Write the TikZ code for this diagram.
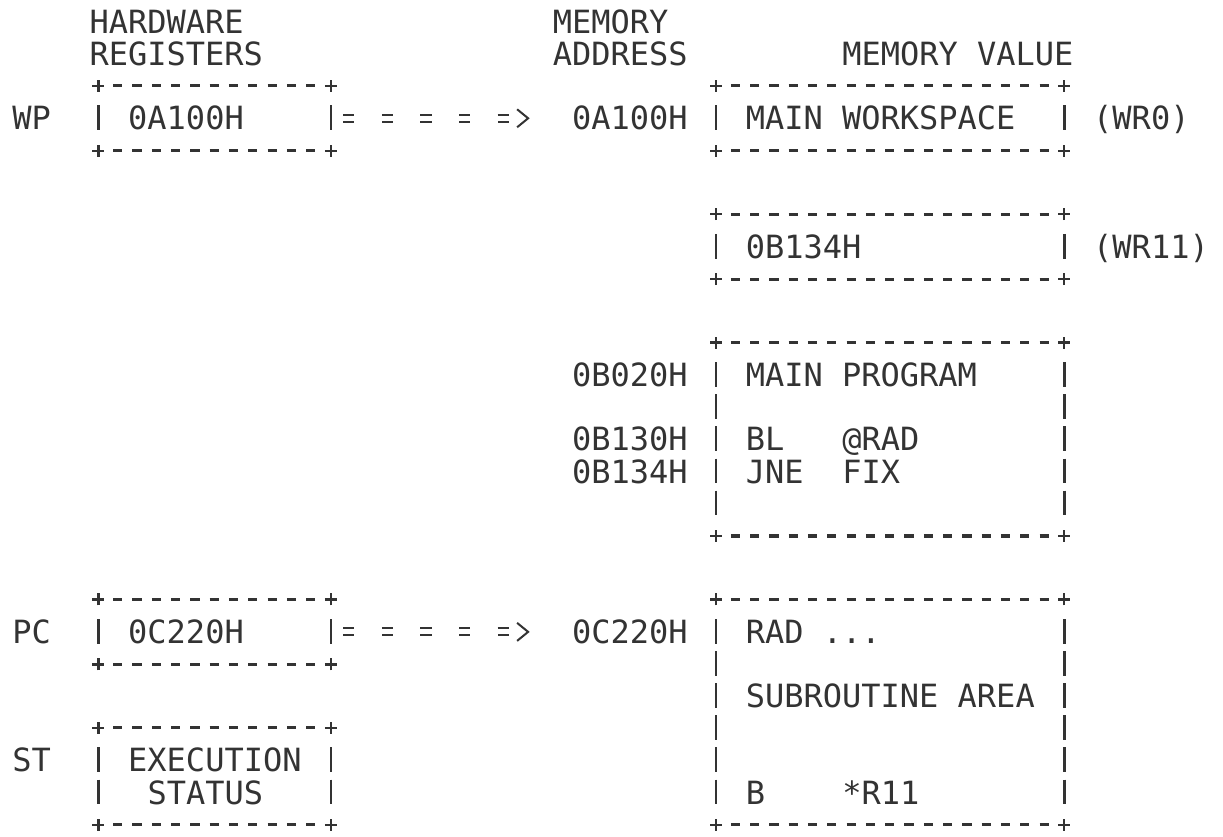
\documentclass[tikz,border=0pt]{standalone}
\usepackage{fontspec}
\setmonofont{DejaVu Sans Mono}
\usetikzlibrary{arrows.meta}

\tikzset{
  txt/.style={anchor=west, inner sep=0pt, text height=11.66pt, text depth=0pt, text=black!80},
  regbox/.style={minimum width=115.8pt, minimum height=#1, inner sep=0pt},
  membox/.style={minimum width=173.7pt, minimum height=#1, inner sep=0pt},
  hrule/.style={draw=black!80, line width=1.6pt, dash pattern=on 4.6pt off 5.05pt},
  vrule/.style={draw=black!80, line width=1.25pt, dash pattern=on 12.4pt off 3.65pt},
  crossmark/.style={draw=black!80, line width=1.15pt},
  eqarrow/.style={draw=black!80, double=white, double distance=2.5pt, line width=1pt,
    dash pattern=on 5.6pt off 13.7pt, shorten <=6.2pt, shorten >=21pt,
    -{Straight Barb[length=5.5pt,width=9pt,line width=1pt]}}
}

\begin{document}
\begin{tikzpicture}[x=9.65pt, y=-16.05pt, font=\ttfamily\fontsize{16}{16}\selectfont]
  \useasboundingbox (-0.622,-0.685) rectangle (62.746,25.389);
  % one x unit = one printed column, one y unit = one printed line
  \node[regbox=32.1pt] (regwp) at (10.5,3) {};
  \node[regbox=32.1pt] (regpc) at (10.5,19) {};
  \node[regbox=48.15pt] (regst) at (10.5,23.5) {};
  \node[membox=32.1pt] (memws) at (45.5,3) {};
  \node[membox=32.1pt] (memwr) at (45.5,7) {};
  \node[membox=96.3pt] (memprog) at (45.5,13) {};
  \node[membox=112.35pt] (memsub) at (45.5,21.5) {};
  % borders: +----+ on top and bottom, | on every line between
  \foreach \bx in {regwp,regpc,regst,memws,memwr,memprog,memsub} {
    \draw[hrule] ([xshift=7.35pt]\bx.north west) -- ([xshift=-7.35pt]\bx.north east);
    \draw[hrule] ([xshift=7.35pt]\bx.south west) -- ([xshift=-7.35pt]\bx.south east);
    \draw[vrule] ([yshift=-9.85pt]\bx.north west) -- ([yshift=9.85pt]\bx.south west);
    \draw[vrule] ([yshift=-9.85pt]\bx.north east) -- ([yshift=9.85pt]\bx.south east);
    \foreach \k in {north west,north east,south west,south east}
      \draw[crossmark] (\bx.\k) +(-3pt,0) -- +(3pt,0) +(0,-3pt) -- +(0,3pt);
  }
  % column heads
  \foreach \c/\r/\nm/\txt in {4/0/hwhead/HARDWARE, 4/1/reghead/REGISTERS,
      28/0/memhead/MEMORY, 28/1/addrhead/ADDRESS, 43/1/valhead/MEMORY VALUE}
    \node[txt] (\nm) at (\c,\r) {\txt};
  % registers
  \foreach \c/\r/\nm/\txt in {0/3/wp/WP, 0/19/pc/PC, 0/23/st/ST,
      6/3/wpval/0A100H, 6/19/pcval/0C220H, 6/23/stval/EXECUTION, 7/24/stvaltwo/STATUS}
    \node[txt] (\nm) at (\c,\r) {\txt};
  % addresses
  \foreach \c/\r/\nm/\txt in {29/3/awp/0A100H, 29/11/amain/0B020H, 29/13/abl/0B130H,
      29/14/ajne/0B134H, 29/19/apc/0C220H}
    \node[txt] (\nm) at (\c,\r) {\txt};
  % memory values
  \foreach \c/\r/\nm/\txt in {38/3/ws/MAIN WORKSPACE, 38/7/wrval/0B134H,
      38/11/prog/MAIN PROGRAM, 38/13/bl/BL, 43/13/blarg/@RAD, 38/14/jne/JNE, 43/14/jnearg/FIX,
      38/21/sub/SUBROUTINE AREA, 38/24/ret/B, 43/24/retarg/*R11,
      56/3/wrzero/(WR0), 56/7/wreleven/(WR11)}
    \node[txt] (\nm) at (\c,\r) {\txt};
  \node[txt] (rad) at (38,19) {RAD ...};
  % register contents point into memory
  \draw[eqarrow] (regwp.east) -- (awp.west);
  \draw[eqarrow] (regpc.east) -- (apc.west);
\end{tikzpicture}
\end{document}
